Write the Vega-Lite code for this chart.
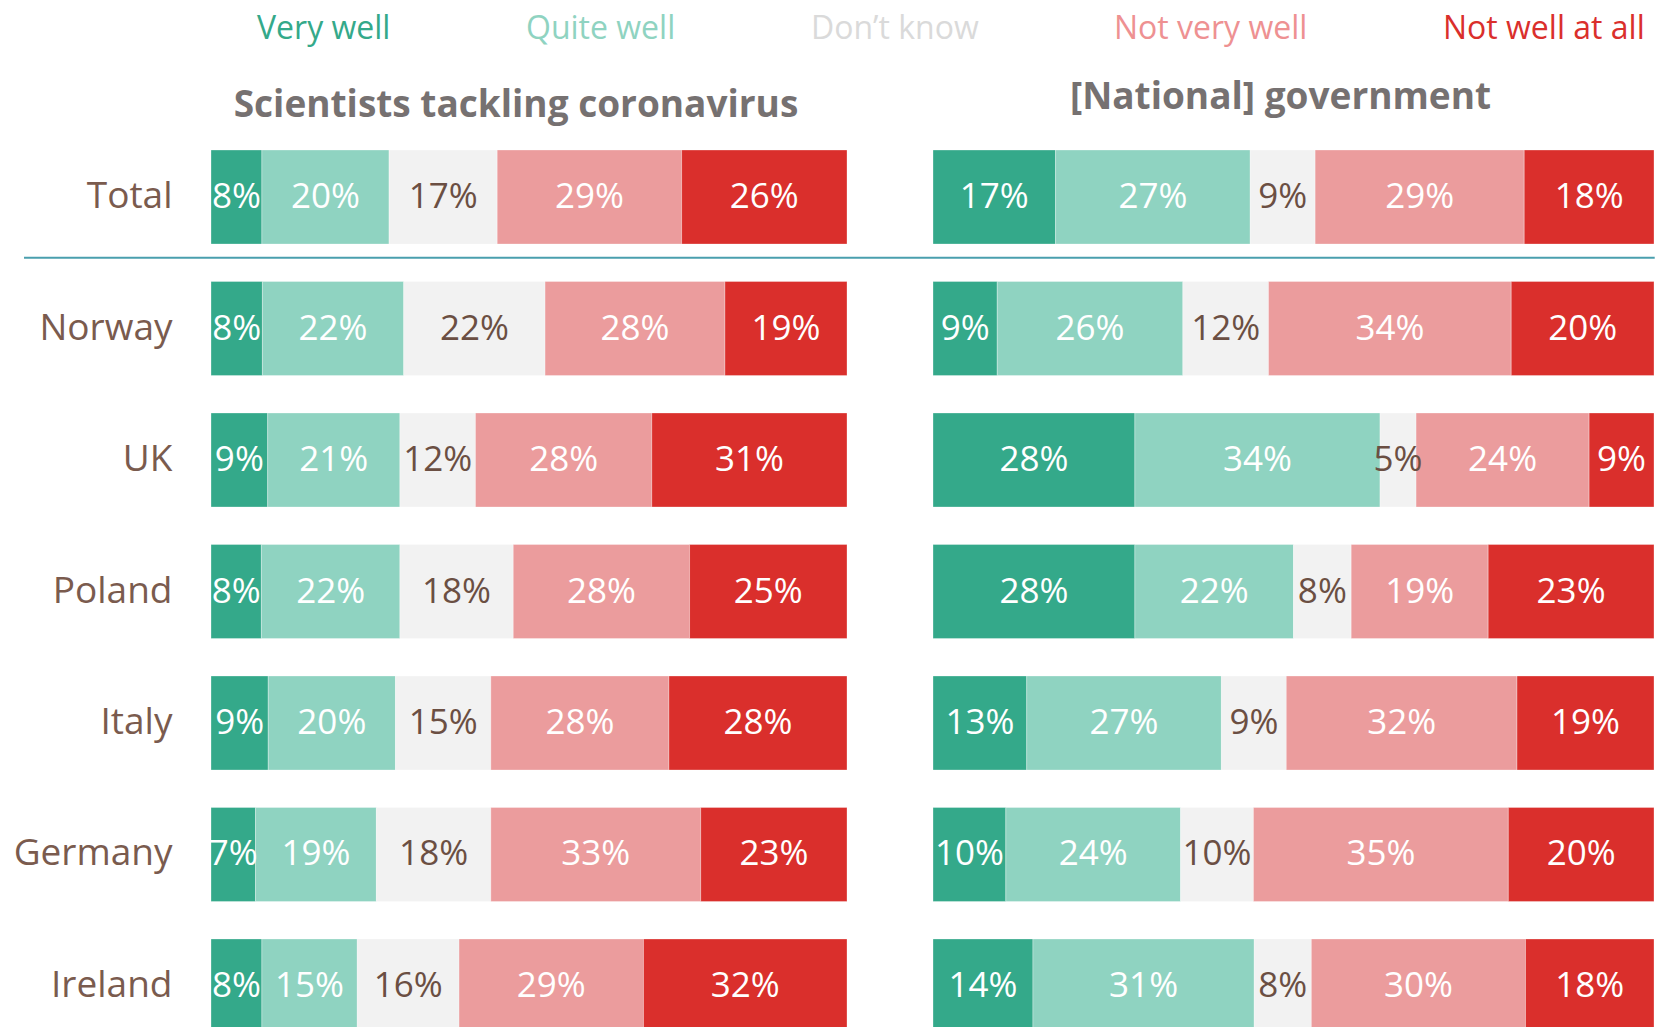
{
  "$schema": "https://vega.github.io/schema/vega-lite/v6.json",
  "padding": {"left": 13, "top": 13, "right": 0, "bottom": -5},
  "background": "white",
  "bounds": "flush",
  "config": {
    "view": {"stroke": null},
    "font": "Open Sans",
    "concat": {"spacing": 86}
  },
  "datasets": {
    "rows": [
      {"p": "S", "c": "Total", "k": 1, "r": "Very well", "v": 0.08},
      {"p": "S", "c": "Total", "k": 2, "r": "Quite well", "v": 0.20},
      {"p": "S", "c": "Total", "k": 3, "r": "Don’t know", "v": 0.17},
      {"p": "S", "c": "Total", "k": 4, "r": "Not very well", "v": 0.29},
      {"p": "S", "c": "Total", "k": 5, "r": "Not well at all", "v": 0.26},
      {"p": "S", "c": "Norway", "k": 1, "r": "Very well", "v": 0.08},
      {"p": "S", "c": "Norway", "k": 2, "r": "Quite well", "v": 0.22},
      {"p": "S", "c": "Norway", "k": 3, "r": "Don’t know", "v": 0.22},
      {"p": "S", "c": "Norway", "k": 4, "r": "Not very well", "v": 0.28},
      {"p": "S", "c": "Norway", "k": 5, "r": "Not well at all", "v": 0.19},
      {"p": "S", "c": "UK", "k": 1, "r": "Very well", "v": 0.09},
      {"p": "S", "c": "UK", "k": 2, "r": "Quite well", "v": 0.21},
      {"p": "S", "c": "UK", "k": 3, "r": "Don’t know", "v": 0.12},
      {"p": "S", "c": "UK", "k": 4, "r": "Not very well", "v": 0.28},
      {"p": "S", "c": "UK", "k": 5, "r": "Not well at all", "v": 0.31},
      {"p": "S", "c": "Poland", "k": 1, "r": "Very well", "v": 0.08},
      {"p": "S", "c": "Poland", "k": 2, "r": "Quite well", "v": 0.22},
      {"p": "S", "c": "Poland", "k": 3, "r": "Don’t know", "v": 0.18},
      {"p": "S", "c": "Poland", "k": 4, "r": "Not very well", "v": 0.28},
      {"p": "S", "c": "Poland", "k": 5, "r": "Not well at all", "v": 0.25},
      {"p": "S", "c": "Italy", "k": 1, "r": "Very well", "v": 0.09},
      {"p": "S", "c": "Italy", "k": 2, "r": "Quite well", "v": 0.20},
      {"p": "S", "c": "Italy", "k": 3, "r": "Don’t know", "v": 0.15},
      {"p": "S", "c": "Italy", "k": 4, "r": "Not very well", "v": 0.28},
      {"p": "S", "c": "Italy", "k": 5, "r": "Not well at all", "v": 0.28},
      {"p": "S", "c": "Germany", "k": 1, "r": "Very well", "v": 0.07},
      {"p": "S", "c": "Germany", "k": 2, "r": "Quite well", "v": 0.19},
      {"p": "S", "c": "Germany", "k": 3, "r": "Don’t know", "v": 0.18},
      {"p": "S", "c": "Germany", "k": 4, "r": "Not very well", "v": 0.33},
      {"p": "S", "c": "Germany", "k": 5, "r": "Not well at all", "v": 0.23},
      {"p": "S", "c": "Ireland", "k": 1, "r": "Very well", "v": 0.08},
      {"p": "S", "c": "Ireland", "k": 2, "r": "Quite well", "v": 0.15},
      {"p": "S", "c": "Ireland", "k": 3, "r": "Don’t know", "v": 0.16},
      {"p": "S", "c": "Ireland", "k": 4, "r": "Not very well", "v": 0.29},
      {"p": "S", "c": "Ireland", "k": 5, "r": "Not well at all", "v": 0.32},
      {"p": "G", "c": "Total", "k": 1, "r": "Very well", "v": 0.17},
      {"p": "G", "c": "Total", "k": 2, "r": "Quite well", "v": 0.27},
      {"p": "G", "c": "Total", "k": 3, "r": "Don’t know", "v": 0.09},
      {"p": "G", "c": "Total", "k": 4, "r": "Not very well", "v": 0.29},
      {"p": "G", "c": "Total", "k": 5, "r": "Not well at all", "v": 0.18},
      {"p": "G", "c": "Norway", "k": 1, "r": "Very well", "v": 0.09},
      {"p": "G", "c": "Norway", "k": 2, "r": "Quite well", "v": 0.26},
      {"p": "G", "c": "Norway", "k": 3, "r": "Don’t know", "v": 0.12},
      {"p": "G", "c": "Norway", "k": 4, "r": "Not very well", "v": 0.34},
      {"p": "G", "c": "Norway", "k": 5, "r": "Not well at all", "v": 0.20},
      {"p": "G", "c": "UK", "k": 1, "r": "Very well", "v": 0.28},
      {"p": "G", "c": "UK", "k": 2, "r": "Quite well", "v": 0.34},
      {"p": "G", "c": "UK", "k": 3, "r": "Don’t know", "v": 0.05},
      {"p": "G", "c": "UK", "k": 4, "r": "Not very well", "v": 0.24},
      {"p": "G", "c": "UK", "k": 5, "r": "Not well at all", "v": 0.09},
      {"p": "G", "c": "Poland", "k": 1, "r": "Very well", "v": 0.28},
      {"p": "G", "c": "Poland", "k": 2, "r": "Quite well", "v": 0.22},
      {"p": "G", "c": "Poland", "k": 3, "r": "Don’t know", "v": 0.08},
      {"p": "G", "c": "Poland", "k": 4, "r": "Not very well", "v": 0.19},
      {"p": "G", "c": "Poland", "k": 5, "r": "Not well at all", "v": 0.23},
      {"p": "G", "c": "Italy", "k": 1, "r": "Very well", "v": 0.13},
      {"p": "G", "c": "Italy", "k": 2, "r": "Quite well", "v": 0.27},
      {"p": "G", "c": "Italy", "k": 3, "r": "Don’t know", "v": 0.09},
      {"p": "G", "c": "Italy", "k": 4, "r": "Not very well", "v": 0.32},
      {"p": "G", "c": "Italy", "k": 5, "r": "Not well at all", "v": 0.19},
      {"p": "G", "c": "Germany", "k": 1, "r": "Very well", "v": 0.10},
      {"p": "G", "c": "Germany", "k": 2, "r": "Quite well", "v": 0.24},
      {"p": "G", "c": "Germany", "k": 3, "r": "Don’t know", "v": 0.10},
      {"p": "G", "c": "Germany", "k": 4, "r": "Not very well", "v": 0.35},
      {"p": "G", "c": "Germany", "k": 5, "r": "Not well at all", "v": 0.20},
      {"p": "G", "c": "Ireland", "k": 1, "r": "Very well", "v": 0.14},
      {"p": "G", "c": "Ireland", "k": 2, "r": "Quite well", "v": 0.31},
      {"p": "G", "c": "Ireland", "k": 3, "r": "Don’t know", "v": 0.08},
      {"p": "G", "c": "Ireland", "k": 4, "r": "Not very well", "v": 0.30},
      {"p": "G", "c": "Ireland", "k": 5, "r": "Not well at all", "v": 0.18}
    ]
  },
  "hconcat": [
    {
      "width": 636,
      "height": 883,
      "title": {"text": "Scientists tackling coronavirus", "fontSize": 37, "font": "Open Sans", "fontWeight": "bold", "color": "#767171", "anchor": "middle", "baseline": "alphabetic", "offset": -4, "dx": -13},
      "data": {"name": "rows"},
      "transform": [{"filter": "datum.p === 'S'"}],
      "layer": [
        {
          "mark": {"type": "bar", "stroke": "white", "strokeWidth": 0.6, "strokeOpacity": 0.5},
          "encoding": {
            "y": {"field": "c", "type": "nominal", "sort": ["Total", "Norway", "UK", "Poland", "Italy", "Germany", "Ireland"],
                  "scale": {"paddingInner": 0.285, "paddingOuter": 0},
                  "axis": {"title": null, "ticks": false, "domain": false, "labelFontSize": 37, "labelFont": "Open Sans", "labelColor": "#7a5b4e", "labelPadding": 39, "labelLimit": 400}},
            "x": {"field": "v", "type": "quantitative", "stack": "normalize", "scale": {"domain": [0, 1], "nice": false}, "axis": null},
            "order": {"field": "k", "type": "quantitative"},
            "color": {"field": "r", "type": "nominal",
                      "scale": {"domain": ["Very well", "Quite well", "Don’t know", "Not very well", "Not well at all"], "range": ["#34a98a", "#8fd3c1", "#f2f2f2", "#eb9c9d", "#da2f2c"]},
                      "legend": {"orient": "none", "legendX": 14, "legendY": -137, "direction": "horizontal", "columns": 5, "title": null, "symbolSize": 0, "symbolStrokeWidth": 0, "symbolOpacity": 0, "labelFontSize": 32, "labelFont": "Open Sans", "labelOffset": 0, "columnPadding": 103, "labelLimit": 400,
                                 "labelColor": {"expr": "datum.value === 'Very well' ? '#34a98a' : datum.value === 'Quite well' ? '#8fd3c1' : datum.value === 'Not very well' ? '#ee9192' : datum.value === 'Not well at all' ? '#da2f2c' : '#dadada'"}}}
          }
        },
        {
          "mark": {"type": "text", "fontSize": 35, "font": "Open Sans", "baseline": "middle", "align": "center"},
          "encoding": {
            "y": {"field": "c", "type": "nominal", "sort": ["Total", "Norway", "UK", "Poland", "Italy", "Germany", "Ireland"]},
            "x": {"field": "v", "type": "quantitative", "stack": "normalize", "bandPosition": 0.5},
            "order": {"field": "k", "type": "quantitative"},
            "detail": {"field": "r"},
            "text": {"field": "v", "type": "quantitative", "format": ".0%"},
            "color": {"condition": {"test": "datum.r === 'Don’t know'", "value": "#6b4f43"}, "value": "white"}
          }
        },
        {
          "data": {"values": [{"line": 1}]},
          "mark": {"type": "rule", "color": "#4a9fae", "strokeWidth": 2},
          "encoding": {
            "x": {"datum": -0.294, "type": "quantitative"},
            "x2": {"datum": 2.27},
            "y": {"datum": "Total", "type": "nominal", "bandPosition": 1.145}
          }
        }
      ]
    },
    {
      "width": 721,
      "height": 883,
      "title": {"text": "[National] government", "fontSize": 37, "font": "Open Sans", "fontWeight": "bold", "color": "#767171", "anchor": "middle", "baseline": "alphabetic", "offset": 4, "dx": -13},
      "data": {"name": "rows"},
      "transform": [{"filter": "datum.p === 'G'"}],
      "layer": [
        {
          "mark": {"type": "bar", "stroke": "white", "strokeWidth": 0.6, "strokeOpacity": 0.5},
          "encoding": {
            "y": {"field": "c", "type": "nominal", "sort": ["Total", "Norway", "UK", "Poland", "Italy", "Germany", "Ireland"],
                  "scale": {"paddingInner": 0.285, "paddingOuter": 0}, "axis": null},
            "x": {"field": "v", "type": "quantitative", "stack": "normalize", "scale": {"domain": [0, 1], "nice": false}, "axis": null},
            "order": {"field": "k", "type": "quantitative"},
            "color": {"field": "r", "type": "nominal",
                      "scale": {"domain": ["Very well", "Quite well", "Don’t know", "Not very well", "Not well at all"], "range": ["#34a98a", "#8fd3c1", "#f2f2f2", "#eb9c9d", "#da2f2c"]},
                      "legend": null}
          }
        },
        {
          "mark": {"type": "text", "fontSize": 35, "font": "Open Sans", "baseline": "middle", "align": "center"},
          "encoding": {
            "y": {"field": "c", "type": "nominal", "sort": ["Total", "Norway", "UK", "Poland", "Italy", "Germany", "Ireland"]},
            "x": {"field": "v", "type": "quantitative", "stack": "normalize", "bandPosition": 0.5},
            "order": {"field": "k", "type": "quantitative"},
            "detail": {"field": "r"},
            "text": {"field": "v", "type": "quantitative", "format": ".0%"},
            "color": {"condition": {"test": "datum.r === 'Don’t know'", "value": "#6b4f43"}, "value": "white"}
          }
        }
      ]
    }
  ]
}
